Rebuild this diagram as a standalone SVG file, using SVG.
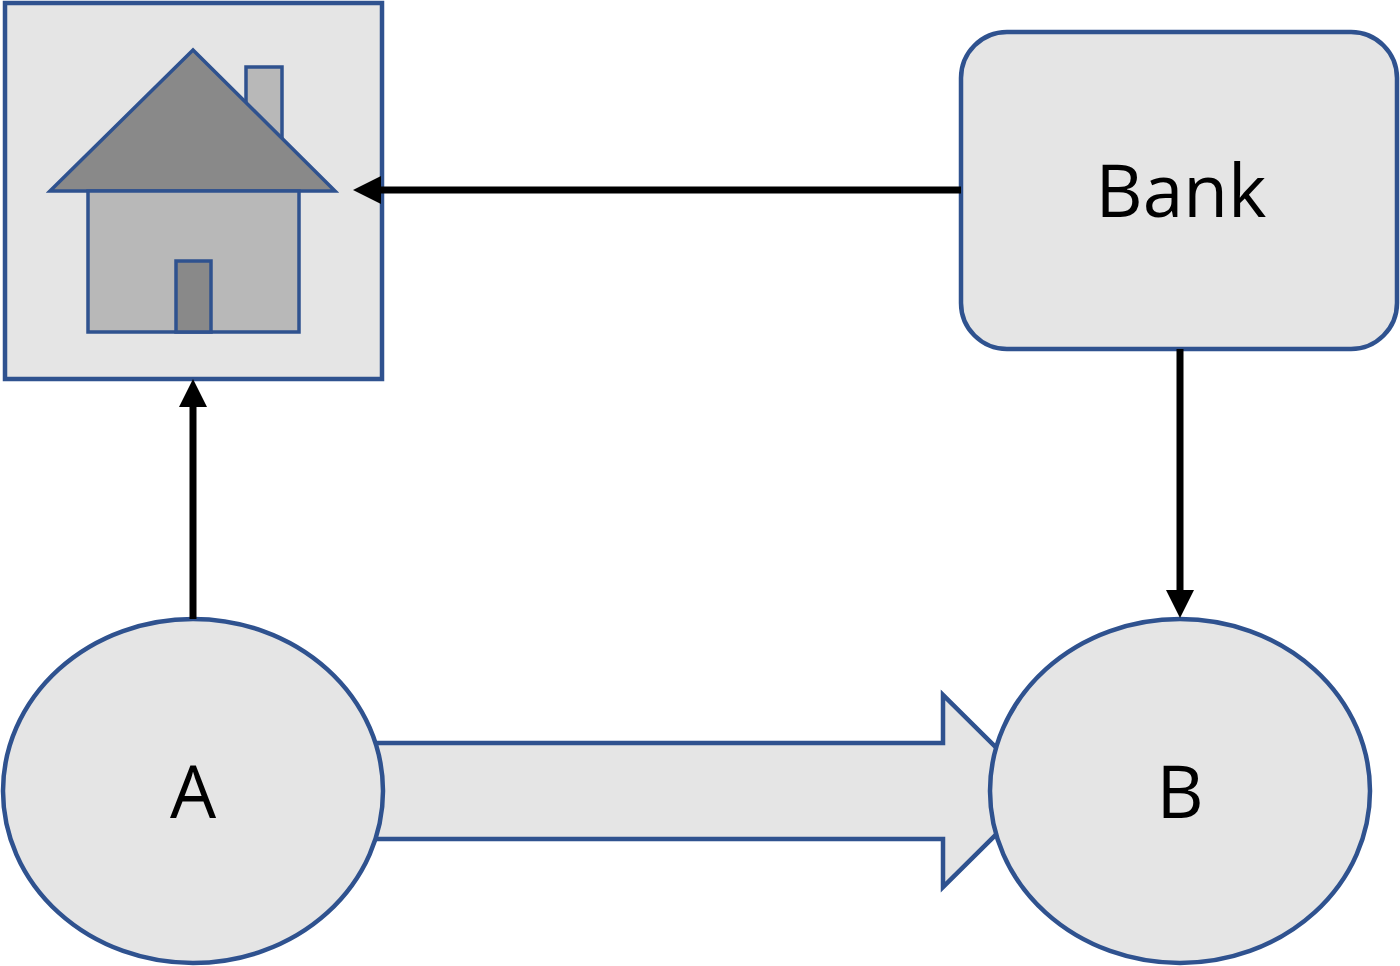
<svg xmlns="http://www.w3.org/2000/svg" width="1400" height="966" viewBox="0 0 1400 966">
<defs>
<style>
.node{fill:#e5e5e5;stroke:#2f528f;stroke-width:4.5}
.lbl{font-family:"Open Sans","Liberation Sans",sans-serif;fill:#000;text-anchor:middle}
.conn{stroke:#000;stroke-width:7;fill:none}
.hs{stroke:#2f528f;stroke-width:3.5}
</style>
<marker id="ah" viewBox="0 0 28 28" refX="0" refY="14" markerUnits="userSpaceOnUse" markerWidth="28" markerHeight="28" orient="auto">
<path d="M0,0 L28,14 L0,28 Z" fill="#000"/>
</marker>
</defs>
<rect width="1400" height="966" fill="#fff"/>
<g id="transfer">
<path class="node" d="M360,743 L943,743 L943,695 L1040,791 L943,887 L943,839 L360,839 Z"/>
</g>
<g id="house">
<rect class="node" x="5" y="3" width="377" height="376"/>
<rect class="hs" x="246" y="67" width="36" height="80" fill="#b8b8b8"/>
<path class="hs" d="M193,50 L50,191 L335,191 Z" fill="#898989"/>
<rect class="hs" x="88" y="191" width="211" height="141" fill="#b8b8b8"/>
<rect class="hs" x="176" y="261" width="35" height="71" fill="#898989"/>
</g>
<g id="bank">
<rect class="node" x="961" y="32" width="436" height="317" rx="46" ry="46"/>
<text class="lbl" x="1181" y="217" font-size="73">Bank</text>
</g>
<g id="nodeA">
<ellipse class="node" cx="193" cy="791" rx="190" ry="172"/>
<text class="lbl" x="193" y="818" font-size="73">A</text>
</g>
<g id="nodeB">
<ellipse class="node" cx="1180" cy="791" rx="190" ry="172"/>
<text class="lbl" x="1180" y="818" font-size="73">B</text>
</g>
<g id="connectors">
<line class="conn" x1="961" y1="190" x2="381" y2="190" marker-end="url(#ah)"/>
<line class="conn" x1="193" y1="619" x2="193" y2="407" marker-end="url(#ah)"/>
<line class="conn" x1="1180" y1="349" x2="1180" y2="590" marker-end="url(#ah)"/>
</g>
</svg>
